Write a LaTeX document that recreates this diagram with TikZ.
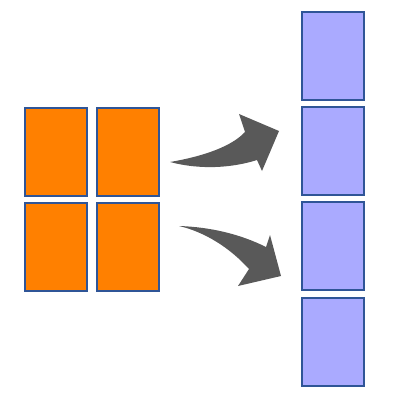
\documentclass[tikz,border=0pt]{standalone}
\usetikzlibrary{positioning}
\definecolor{blkOrange}{HTML}{FF8000}
\definecolor{blkLilac}{HTML}{AAAAFF}
\definecolor{blkEdge}{HTML}{2F5597}
\definecolor{arrGrey}{HTML}{595959}
\tikzset{
  % one pixel of the reference is one unit, y runs downwards
  every picture/.append style = {x=0.025cm, y=-0.025cm},
  cell/.style    = {draw=blkEdge, line width=1.4pt, minimum width=1.55cm,
                    minimum height=2.2cm, inner sep=0pt},
  srccell/.style = {cell, fill=blkOrange},
  dstcell/.style = {cell, fill=blkLilac},
  bigarrow/.style = {fill=arrGrey, draw=none},
}
\begin{document}
\begin{tikzpicture}[node distance=0.13cm and 0.2cm]
\useasboundingbox (0,0) rectangle (400,400);
% ---- source: 2 x 2 block --------------------------------------------------
\node[srccell] (s11) at (56,152) {};
\node[srccell, right=of s11] (s12) {};
\node[srccell, below=of s11] (s21) {};
\node[srccell, below=of s12] (s22) {};

% ---- target: one column of four -------------------------------------------
\node[dstcell] (t1) at (333,56) {};
\node[dstcell, below=of t1] (t2) {};
\node[dstcell, below=of t2] (t3) {};
\node[dstcell, below=of t3] (t4) {};

% ---- curved arrows in between ---------------------------------------------
\fill[bigarrow] (170,162) .. controls (205,156) and (232,146) .. (245,132)
  -- (239,114) -- (279,131) -- (262,171) -- (257,160)
  .. controls (232,168) and (200,170) .. cycle;
\fill[bigarrow] (179,226) .. controls (210,227) and (240,234) .. (266,247)
  -- (270,235) -- (281,276) -- (238,286) -- (249,269)
  .. controls (230,248) and (205,232) .. cycle;
\end{tikzpicture}
\end{document}
